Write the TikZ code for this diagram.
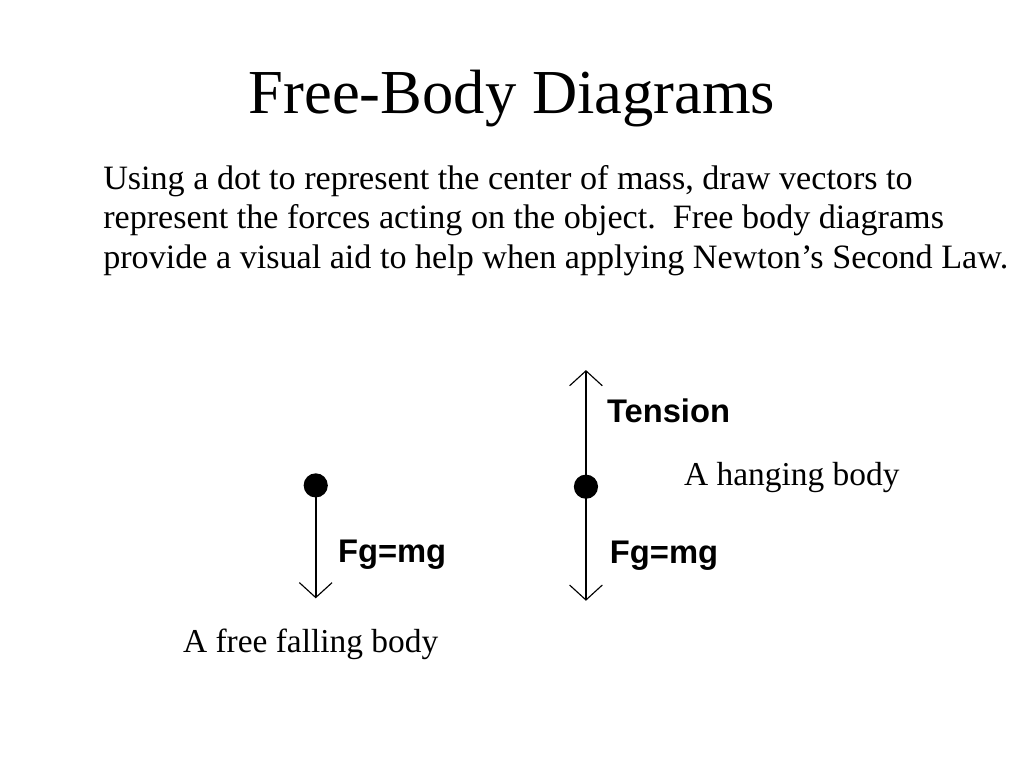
\documentclass[tikz,border=0pt]{standalone}
\usepackage{fontspec}
\setmainfont{Liberation Serif}
\newfontfamily\labelfont{Liberation Sans}
\usetikzlibrary{arrows.meta}
\tikzset{
  txt/.style={anchor=base west, inner sep=0pt, font=\fontsize{24pt}{28pt}\selectfont},
  captxt/.style={anchor=base west, inner sep=0pt, font=\fontsize{23.5pt}{28pt}\selectfont},
  flabel/.style={anchor=base west, inner sep=0pt, font=\labelfont\bfseries\fontsize{23pt}{26pt}\selectfont},
  massdot/.style={circle, fill=black, minimum size=17pt, inner sep=0pt},
  force/.style={line width=1.4pt, -{Straight Barb[length=10.5pt, width=23pt, line width=0.8pt]}}
}
\begin{document}
\begin{tikzpicture}[x=1pt,y=-1pt]
\useasboundingbox[fill=white] (0,0) rectangle (720,540);
% title
\node[anchor=base, inner sep=0pt, font=\fontsize{44pt}{52pt}\selectfont] (title) at (360,79.5) {Free-Body Diagrams};
% paragraph
\node[txt] (p1) at (72.4,132.9) {Using a dot to represent the center of mass, draw vectors to};
\node[txt] (p2) at (72.4,161.0) {represent the forces acting on the object.\ \ Free body diagrams};
\node[txt] (p3) at (72.4,189.1) {provide a visual aid to help when applying Newton’s Second Law.};
% free falling body
\node[massdot] (d1) at (222.0,341.3) {};
\coordinate (t1) at (222.0,420.7);
\draw[force] (d1.center) -- (t1);
\node[flabel] (fg1) at (237.5,395.2) {Fg=mg};
\node[captxt] (l1) at (128.5,459.1) {A free falling body};
% hanging body
\node[massdot] (d2) at (412.0,342.2) {};
\coordinate (t2u) at (412.0,260.2);
\coordinate (t2d) at (412.0,422.4);
\draw[force] (d2.center) -- (t2u);
\draw[force] (d2.center) -- (t2d);
\node[flabel] (ten) at (426.6,297.4) {Tension};
\node[flabel] (fg2) at (428.7,395.9) {Fg=mg};
\node[captxt] (l2) at (480.8,341.7) {A hanging body};
\end{tikzpicture}
\end{document}
